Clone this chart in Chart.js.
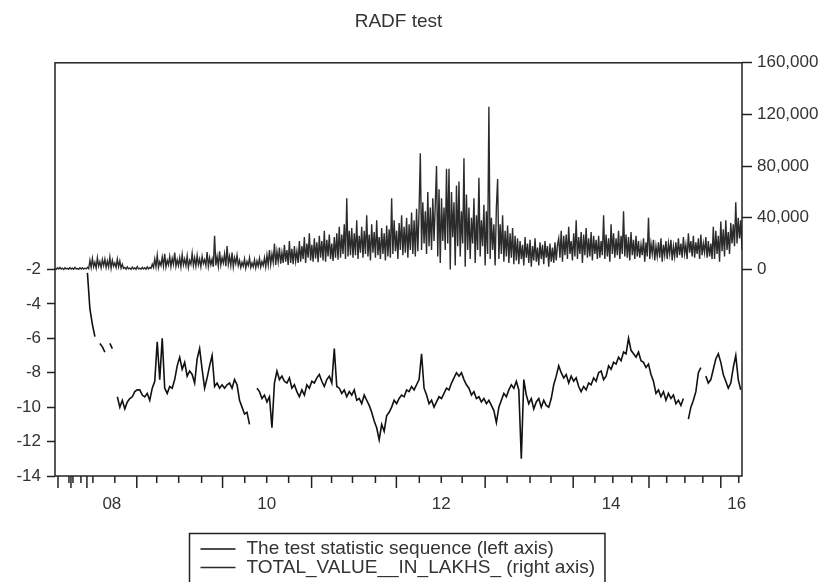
<!DOCTYPE html>
<html>
<head>
<meta charset="utf-8">
<title>RADF test</title>
<script src="https://cdn.jsdelivr.net/npm/chart.js@4.4.1/dist/chart.umd.min.js"></script>
<style>
  html, body { margin: 0; padding: 0; background: #fff; }
</style>
</head>
<body>
<canvas id="graph" width="824" height="582"></canvas>
<script>
// -------------------------
// DATA
// -------------------------
// total value, one entry per observation
const totalValue = [
  600, 100, 1200, 300, 1500, 200, 900, 0, 1300, 400, 800, 100, 1400, 300, 1000, 200, 1500, 400, 700, 100, 1200, 300, 1300, 200, 900, 400, 1600, 500,
  7000, 1500, 8500, 2000, 5500, 1000, 9000, 2500, 6000, 1200, 7500, 3000, 8000, 1500, 6500, 2000, 9500, 1000, 7000, 2500, 5000, 1500, 8000, 2000, 6500, 1000, 4000, 800,
  1500, 200, 2000, 500, 1000, 100, 1800, 300, 1200, 0, 2200, 400, 900, 200, 1600, 300, 1300, 100, 2000, 500, 1500, 800, 4000, 1500,
  8000, 2000, 11000, 1500, 6000, 3000, 9500, 2500, 12000, 1800, 7000, 3500, 10000, 2200, 8500, 4000, 13000, 2500, 7500, 3000, 9000, 2000, 11500, 3500,
  8000, 2800, 10500, 1500, 7000, 4000, 12500, 3000, 9000, 2500, 11000, 3500, 8000, 2000, 10000, 4500, 7500, 3000, 13500, 2500, 9000, 3500, 8000, 2000,
  26000, 3000, 10000, 2500,
  14000, 3500, 9000, 5000, 12000, 2500, 18000, 4000, 10000, 3000, 13000, 2000, 9000, 4500, 11000, 3000,
  7000, 1500, 5500, 2500, 8000, 1000, 6000, 3000, 9000, 1500, 5000, 2000, 7500, 1200, 6500, 2500, 8500, 1800, 6000, 3000, 9000, 2000, 11000, 3500,
  15000, 4000, 12000, 5500, 20000, 3500, 14000, 6000, 17000, 4500, 13000, 5000, 19000, 6000, 15000, 3500, 22000, 5000, 16000, 4000, 18000, 6500, 14000, 5000,
  22000, 6000, 18000, 8000, 25000, 5000, 20000, 9000, 28000, 7000, 19000, 6000, 24000, 8500, 21000, 5500,
  26000, 9000, 22000, 7000, 30000, 6000, 23000, 10000, 27000, 8000, 20000, 6500, 25000, 9000, 28000, 7500,
  33000, 9000, 27000, 12000, 35000, 8000, 55000, 10000, 30000, 11000, 32000, 9000,
  28000, 11000, 38000, 8000, 26000, 13000, 33000, 9000, 30000, 12000, 42000, 10000, 27000, 7000,
  35000, 13000, 29000, 9000, 38000, 11000, 25000, 8000, 32000, 12000, 28000, 7000, 34000, 10000,
  31000, 9000, 55000, 12000, 38000, 14000, 30000, 8000, 36000, 15000, 42000, 11000,
  33000, 13000, 40000, 9000, 35000, 15000, 44000, 12000, 38000, 10000, 47000, 14000,
  45000, 90000, 15000, 52000, 20000, 45000, 12000, 60000, 18000, 48000, 15000, 55000, 22000, 50000, 80000, 10000,
  62000, 5000, 55000, 22000, 48000, 15000, 78000, 20000, 78000, 0, 60000, 25000,
  52000, 3000, 65000, 18000, 68000, 10000, 45000, 20000, 86000, 2000, 58000, 15000,
  48000, 8000, 40000, 20000, 55000, 5000, 42000, 15000, 71000, 10000, 38000, 18000,
  50000, 3000, 45000, 12000, 126000, 8000, 40000, 15000, 35000, 3000, 48000, 70000,
  8000, 35000, 12000, 42000, 6000, 30000, 10000, 34000, 5000, 28000, 9000, 32000, 4000, 26000, 7000, 24000,
  4000, 22000, 8000, 19000, 3000, 25000, 9000, 20000, 5000, 23000, 2000, 18000, 7000, 24000, 6000, 17000,
  3000, 21000, 8000, 19000, 4000, 22000, 9000, 18000, 2000, 20000, 6000, 17000, 5000, 21000, 7000, 19000,
  24000, 9000, 30000, 6000, 26000, 11000, 27000, 8000, 33000, 12000, 22000, 7000, 28000, 10000, 38000, 8000,
  25000, 12000, 29000, 5000, 27000, 11000, 32000, 9000, 24000, 10000, 29000, 7000, 26000, 12000, 23000, 8000,
  26000, 9000, 22000, 11000, 42000, 8000, 27000, 10000, 24000, 6000, 35000, 12000, 28000, 9000, 24000, 11000,
  30000, 8000, 26000, 12000, 45000, 10000, 27000, 9000, 25000, 7000, 29000, 11000, 23000, 8000, 26000, 10000,
  22000, 9000, 19000, 11000, 24000, 6000, 21000, 10000, 40000, 8000, 20000, 12000, 23000, 7000, 18000, 10000,
  21000, 9000, 24000, 6000, 19000, 11000, 22000, 8000, 20000, 12000, 23000, 7000, 18000, 10000, 21000, 9000,
  24000, 11000, 20000, 9000, 25000, 12000, 19000, 8000, 28000, 13000, 22000, 10000, 26000, 9000,
  21000, 12000, 24000, 8000, 27000, 11000, 20000, 13000, 25000, 9000, 22000, 10000, 20000, 8000,
  33000, 8000, 30000, 12000, 26000, 6000, 37000, 14000, 31000, 10000, 38000, 15000,
  29000, 12000, 36000, 20000, 35000, 18000, 52000, 20000, 40000, 24000, 38000, 15000
];

// test statistic, one entry every second observation
const testStat = [
  null, null, null, null, null, null, null, null, null, null,
  null, null, null, -2.2, -4.3, -5.2, -5.9, null, -6.3, -6.5,
  -6.8, null, -6.3, -6.6, null, -9.4, -10.0, -9.6, -10.1, -9.7,
  -9.5, -9.4, -9.1, -9.0, -9.0, -9.3, -9.4, -9.2, -9.6, -8.9,
  -8.5, -6.2, -8.4, -6.0, -8.9, -9.2, -8.8, -8.9, -8.4, -7.6,
  -7.1, -7.8, -7.4, -8.2, -7.9, -8.1, -8.6, -7.2, -6.6, -7.8,
  -8.9, -8.3, -7.6, -7.0, -8.8, -8.6, -8.9, -8.7, -8.9, -8.7,
  -8.6, -8.9, -8.4, -8.7, -9.6, -10.0, -10.4, -10.3, -11.0, null,
  null, -8.9, -9.1, -9.5, -9.3, -9.7, -9.4, -11.2, -8.6, -7.9,
  -8.4, -8.2, -8.5, -8.6, -8.3, -8.9, -8.7, -9.1, -9.4, -9.0,
  -9.3, -8.7, -8.9, -8.5, -8.6, -8.3, -8.1, -8.5, -8.8, -8.4,
  -8.2, -8.6, -6.6, -8.8, -8.9, -9.2, -9.0, -9.4, -9.1, -9.3,
  -9.0, -9.6, -9.5, -9.8, -9.3, -9.6, -9.9, -10.3, -10.8, -11.2,
  -11.9, -11.0, -11.4, -10.5, -10.3, -10.0, -9.6, -9.8, -9.5, -9.3,
  -9.4, -9.0, -9.1, -8.8, -9.0, -8.7, -8.4, -6.9, -8.9, -9.3,
  -9.8, -9.6, -10.0, -9.7, -9.4, -9.5, -9.2, -8.9, -9.0, -8.6,
  -8.3, -8.0, -8.2, -8.0, -8.4, -8.7, -8.9, -9.3, -9.1, -9.5,
  -9.4, -9.7, -9.5, -9.8, -9.6, -9.9, -10.2, -10.9, -10.0, -9.6,
  -9.2, -9.4, -9.0, -8.7, -8.9, -8.5, -9.0, -13.0, -8.4, -9.3,
  -9.8, -9.5, -10.1, -9.7, -9.5, -10.0, -9.6, -9.9, -10.0, -9.5,
  -8.7, -8.2, -7.6, -8.0, -8.3, -8.1, -8.6, -8.2, -8.5, -8.3,
  -8.8, -9.1, -8.8, -9.0, -8.6, -8.7, -8.3, -8.5, -8.0, -7.9,
  -8.4, -8.2, -7.6, -7.8, -7.4, -7.5, -7.1, -7.3, -6.8, -6.9,
  -6.0, -6.7, -6.9, -7.1, -6.8, -7.3, -7.4, -7.7, -7.5, -8.1,
  -8.5, -9.2, -9.0, -9.4, -9.1, -9.6, -9.2, -9.5, -9.3, -9.8,
  -9.6, -9.9, -9.5, null, -10.7, -10.0, -9.6, -9.1, -8.0, -7.7,
  null, -8.2, -8.6, -8.4, -7.8, -7.2, -6.9, -7.4, -8.1, -8.5,
  -8.9, -8.6, -7.7, -7.0, -8.4, -9.0
];

// x axis: year labels and tick marks, in observation units
const yearLabels = ["08", "10", "12", "14", "16"];
const yearLabelPos = [45.6, 169.8, 309.8, 446.0, 546.8];
const yearTickPos = [2.4, 12.8, 25.6, 65.6, 134.4, 205.8, 273.8, 345.0, 415.6, 476.4, 534.0];
const quarterTickPos = [11.2, 14.4, 20.8, 30.4, 48.0, 81.6, 99.2, 117.6, 152.2, 169.8, 187.4,
  221.8, 238.6, 257.0, 292.2, 309.8, 326.6, 362.6, 381.0, 397.8, 433.0, 447.4, 462.6,
  490.6, 505.2, 519.6, 548.4];

const obsIndex = totalValue.map((_, i) => i);
const statPoints = testStat.map((v, i) => ({ x: i * 2, y: v }));

const FONT = '"Liberation Sans", Arial, sans-serif';
const INK = "#333";

Chart.defaults.font.family = FONT;
Chart.defaults.color = INK;

// -------------------------
// PLOT FRAME + DATE TICKS
// -------------------------
const frameTicks = {
  id: "frameTicks",
  afterDatasetsDraw(chart) {
    const { ctx, chartArea: a } = chart;
    const x = chart.scales.x;
    ctx.save();
    ctx.strokeStyle = "#222";
    ctx.lineWidth = 1.5;
    ctx.strokeRect(a.left, a.top, a.right - a.left, a.bottom - a.top);

    ctx.beginPath();
    yearTickPos.forEach(v => {
      const px = x.getPixelForValue(v);
      ctx.moveTo(px, a.bottom);
      ctx.lineTo(px, a.bottom + 12);
    });
    quarterTickPos.forEach(v => {
      const px = x.getPixelForValue(v);
      ctx.moveTo(px, a.bottom);
      ctx.lineTo(px, a.bottom + 7);
    });
    ctx.stroke();
    ctx.restore();
  }
};

// -------------------------
// BOXED LEGEND UNDER THE AXIS
// -------------------------
const boxLegend = {
  id: "boxLegend",
  afterDraw(chart) {
    const ctx = chart.ctx;
    const left = 189.5, top = 533.5, rowH = 18.5;
    ctx.save();
    ctx.font = "19px " + FONT;
    ctx.textBaseline = "middle";
    let maxW = 0;
    chart.data.datasets.forEach(ds => { maxW = Math.max(maxW, ctx.measureText(ds.label).width); });

    ctx.strokeStyle = "#222";
    ctx.lineWidth = 1.5;
    ctx.strokeRect(left, top, 57 + maxW + 10, 70);

    chart.data.datasets.forEach((ds, i) => {
      const y = top + 15.5 + i * rowH;
      ctx.beginPath();
      ctx.strokeStyle = ds.borderColor;
      ctx.lineWidth = 1.5;
      ctx.moveTo(left + 11, y);
      ctx.lineTo(left + 46, y);
      ctx.stroke();
      ctx.fillStyle = INK;
      ctx.fillText(ds.label, left + 57, y);
    });
    ctx.restore();
  }
};

// -------------------------
// CHART
// -------------------------
const chart = new Chart(document.getElementById("graph").getContext("2d"), {
  type: "line",
  data: {
    labels: obsIndex,
    datasets: [
      {
        label: "The test statistic sequence (left axis)",
        data: statPoints,
        yAxisID: "yLeft",
        borderColor: "#111",
        borderWidth: 1.6,
        pointRadius: 0,
        spanGaps: false,
        tension: 0
      },
      {
        label: "TOTAL_VALUE__IN_LAKHS_ (right axis)",
        data: totalValue,
        yAxisID: "yRight",
        borderColor: "#2b2b2b",
        borderWidth: 1.4,
        pointRadius: 0,
        tension: 0
      }
    ]
  },
  options: {
    responsive: false,
    animation: false,
    layout: { padding: 0 },
    plugins: {
      legend: { display: false },
      tooltip: { enabled: false },
      title: {
        display: true,
        fullSize: false,
        text: "RADF test",
        color: INK,
        font: { size: 19, weight: "normal" },
        padding: { top: 10, bottom: 30 }
      }
    },
    scales: {
      x: {
        type: "linear",
        min: 0,
        max: totalValue.length - 1,
        grid: { display: false },
        border: { display: false },
        afterBuildTicks: axis => { axis.ticks = yearLabelPos.map(v => ({ value: v })); },
        afterFit: axis => { axis.height = 106; },
        ticks: {
          autoSkip: false,
          maxRotation: 0,
          padding: 10,
          font: { size: 17 },
          callback: v => yearLabels[yearLabelPos.indexOf(v)]
        }
      },
      yLeft: {
        position: "left",
        min: -14,
        max: 10,
        afterBuildTicks: axis => { axis.ticks = axis.ticks.filter(t => t.value <= -2); },
        afterFit: axis => { axis.width = 55; },
        grid: { drawOnChartArea: false, tickLength: 8, tickColor: "#222", tickWidth: 1.5 },
        border: { display: false },
        ticks: { stepSize: 2, padding: 6, font: { size: 17 }, callback: v => String(v) }
      },
      yRight: {
        position: "right",
        min: -160000,
        max: 160000,
        afterBuildTicks: axis => { axis.ticks = axis.ticks.filter(t => t.value >= 0); },
        afterFit: axis => { axis.width = 82; },
        grid: { drawOnChartArea: false, tickLength: 10, tickColor: "#222", tickWidth: 1.5 },
        border: { display: false },
        ticks: { stepSize: 40000, padding: 5, font: { size: 17 }, callback: v => v.toLocaleString("en-US") }
      }
    }
  },
  plugins: [frameTicks, boxLegend]
});
</script>
</body>
</html>
